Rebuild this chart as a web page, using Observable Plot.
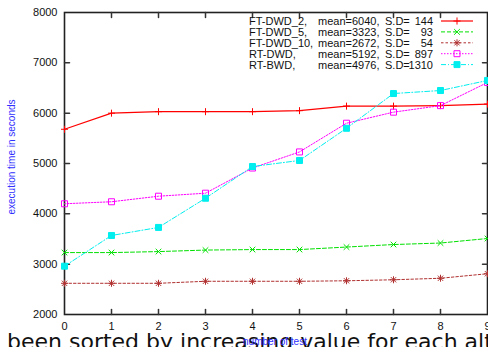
<!DOCTYPE html>
<html><head><meta charset="utf-8">
<script src="https://cdn.jsdelivr.net/npm/d3@7"></script>
<script src="https://cdn.jsdelivr.net/npm/@observablehq/plot@0.6"></script>
<style>body{margin:0;background:#fff;overflow:hidden}</style>
</head><body><div id="chart"></div>
<script>
// ---- data ----
const tests   = [0, 1, 2, 3, 4, 5, 6, 7, 8, 9];
const ftDwd2  = [5680, 6000, 6030, 6030, 6030, 6050, 6140, 6140, 6150, 6180];
const ftDwd5  = [3230, 3230, 3250, 3280, 3290, 3290, 3340, 3390, 3420, 3510];
const ftDwd10 = [2620, 2620, 2620, 2660, 2660, 2660, 2670, 2690, 2720, 2810];
const rtDwd   = [4200, 4240, 4350, 4410, 4910, 5230, 5800, 6020, 6150, 6610];
const rtBwd   = [2960, 3570, 3730, 4310, 4940, 5060, 5700, 6390, 6450, 6650];
const seriesNames = ["FT-DWD_2,", "FT-DWD_5,", "FT-DWD_10,", "RT-DWD,", "RT-BWD,"];
const seriesMeans = ["mean=6040,", "mean=3323,", "mean=2672,", "mean=5192,", "mean=4976,"];
const seriesSD    = ["144", "93", "54", "897", "1310"];
const yTicks = [2000, 3000, 4000, 5000, 6000, 7000, 8000];
const xTicks = [0, 1, 2, 3, 4, 5, 6, 7, 8, 9];
const yLabel = "execution time in seconds";
const xLabel = "number of test";
const pageText = "been sorted by increasing value for each alternative";

// ---- symbols ----
const rad = s => Math.sqrt(s / Math.PI);
const symPlus = {draw(c, s){const r = rad(s); c.moveTo(-r,0); c.lineTo(r,0); c.moveTo(0,-r); c.lineTo(0,r);}};
const symTimes = {draw(c, s){const r = rad(s)*0.8; c.moveTo(-r,-r); c.lineTo(r,r); c.moveTo(-r,r); c.lineTo(r,-r);}};
const symStar = {draw(c, s){const r = rad(s); const q = r*0.75; c.moveTo(-r,0); c.lineTo(r,0); c.moveTo(0,-r); c.lineTo(0,r); c.moveTo(-q,-q); c.lineTo(q,q); c.moveTo(-q,q); c.lineTo(q,-q);}};
const symSquare = {draw(c, s){const r = rad(s); c.moveTo(-r,-r); c.lineTo(r,-r); c.lineTo(r,r); c.lineTo(-r,r); c.closePath();}};

const styles = [
  {values: ftDwd2,  color: "#ff0000", dash: null,      width: 1.2, symbol: symPlus,   fill: "none"},
  {values: ftDwd5,  color: "#00e000", dash: "4,2",     width: 1,   symbol: symTimes,  fill: "none"},
  {values: ftDwd10, color: "#b03030", dash: "2.5,2",   width: 1,   symbol: symStar,   fill: "none"},
  {values: rtDwd,   color: "#ff00ff", dash: "1.5,1.5", width: 1,   symbol: symSquare, fill: "none"},
  {values: rtBwd,   color: "#00eeee", dash: "5,2,1,2", width: 1,   symbol: symSquare, fill: "#00eeee"}
];

const tickShape = {draw(c, l){c.moveTo(0,0); c.lineTo(0,-l);}};
const font = "Liberation Sans, Arial, Helvetica, sans-serif";

function overlay(index, scales, values, dims) {
  const g = d3.create("svg:g").attr("font-family", font).attr("text-anchor", "start");
  // legend
  const r0 = 21, dyRow = 10.9;
  seriesNames.forEach((n, i) => {
    const cy = r0 + i*dyRow, st = styles[i];
    const t = g.append("g").attr("font-size", 11).attr("fill", "#111");
    t.append("text").attr("x", 249).attr("y", cy + 4).attr("text-anchor", "start").text(n);
    t.append("text").attr("x", 318).attr("y", cy + 4).attr("text-anchor", "start").text(seriesMeans[i]);
    t.append("text").attr("x", 385).attr("y", cy + 4).attr("text-anchor", "start").text("S.D=");
    t.append("text").attr("x", 433).attr("y", cy + 4).attr("text-anchor", "end").text(seriesSD[i]);
    g.append("line").attr("x1", 441).attr("x2", 473).attr("y1", cy).attr("y2", cy)
      .attr("stroke", st.color).attr("stroke-width", st.width).attr("stroke-dasharray", st.dash);
    const p = d3.path(); st.symbol.draw(p, 12.5*Math.PI/ (st.symbol === symSquare ? 1.4 : 1));
    g.append("path").attr("transform", `translate(457,${cy})`).attr("d", p.toString())
      .attr("stroke", st.color).attr("fill", st.fill).attr("stroke-width", 1);
  });
  // y title
  g.append("text").attr("transform", `translate(15,157) rotate(-90)`).attr("text-anchor", "middle")
    .attr("font-size", 10).attr("fill", "#3030ff").text(yLabel);
  return g.node();
}
function pageCaption() {
  const g = d3.create("svg:g");
  g.append("text").attr("x", 7).attr("y", 349).attr("text-anchor", "start").attr("font-family", "DejaVu Sans, sans-serif")
    .attr("font-size", 22).attr("fill", "#111").text(pageText);
  return g.node();
}
function xTitle() {
  const g = d3.create("svg:g");
  g.append("text").attr("x", 275).attr("y", 345).attr("text-anchor", "middle").attr("font-family", font)
    .attr("font-size", 10).attr("fill", "#3030ff").text(xLabel);
  return g.node();
}

const marks = [
  pageCaption,
  Plot.frame({stroke: "#222", strokeWidth: 1.6}),
  Plot.axisY(yTicks, {anchor: "left", tickSize: 0, tickPadding: 7, tickFormat: d => String(d), label: null, fontSize: 11, fill: "#111"}),
  Plot.axisX(xTicks, {anchor: "bottom", tickSize: 0, tickPadding: 8, tickFormat: d => String(d), label: null, fontSize: 11, fill: "#111"}),
  Plot.vector(yTicks.slice(1, -1), {y: d => d, frameAnchor: "left", rotate: 90, length: 5, anchor: "start", shape: tickShape, stroke: "#333"}),
  Plot.vector(yTicks.slice(1, -1), {y: d => d, frameAnchor: "right", rotate: -90, length: 5, anchor: "start", shape: tickShape, stroke: "#333"}),
  Plot.vector(xTicks.slice(1, -1), {x: d => d, frameAnchor: "bottom", rotate: 0, length: 5, anchor: "start", shape: tickShape, stroke: "#333"}),
  Plot.vector(xTicks.slice(1, -1), {x: d => d, frameAnchor: "top", rotate: 180, length: 5, anchor: "start", shape: tickShape, stroke: "#333"})
];
styles.forEach(st => {
  marks.push(Plot.line(tests, {x: d => d, y: (d, i) => st.values[i], stroke: st.color, strokeWidth: st.width, strokeDasharray: st.dash}));
  marks.push(Plot.dot(tests, {x: d => d, y: (d, i) => st.values[i], symbol: st.symbol, r: st.symbol === symSquare ? 3 : 3.5, stroke: st.color, fill: st.fill, strokeWidth: 1}));
});
marks.push(overlay, xTitle);

const chart = Plot.plot({
  width: 488, height: 347,
  marginLeft: 64, marginRight: 1, marginTop: 12, marginBottom: 33,
  style: {fontFamily: font, fontSize: "11px", color: "#111", background: "white", overflow: "hidden"},
  x: {domain: [0, 9]},
  y: {domain: [2000, 8000]},
  marks
});
document.getElementById("chart").appendChild(chart);
</script></body></html>
